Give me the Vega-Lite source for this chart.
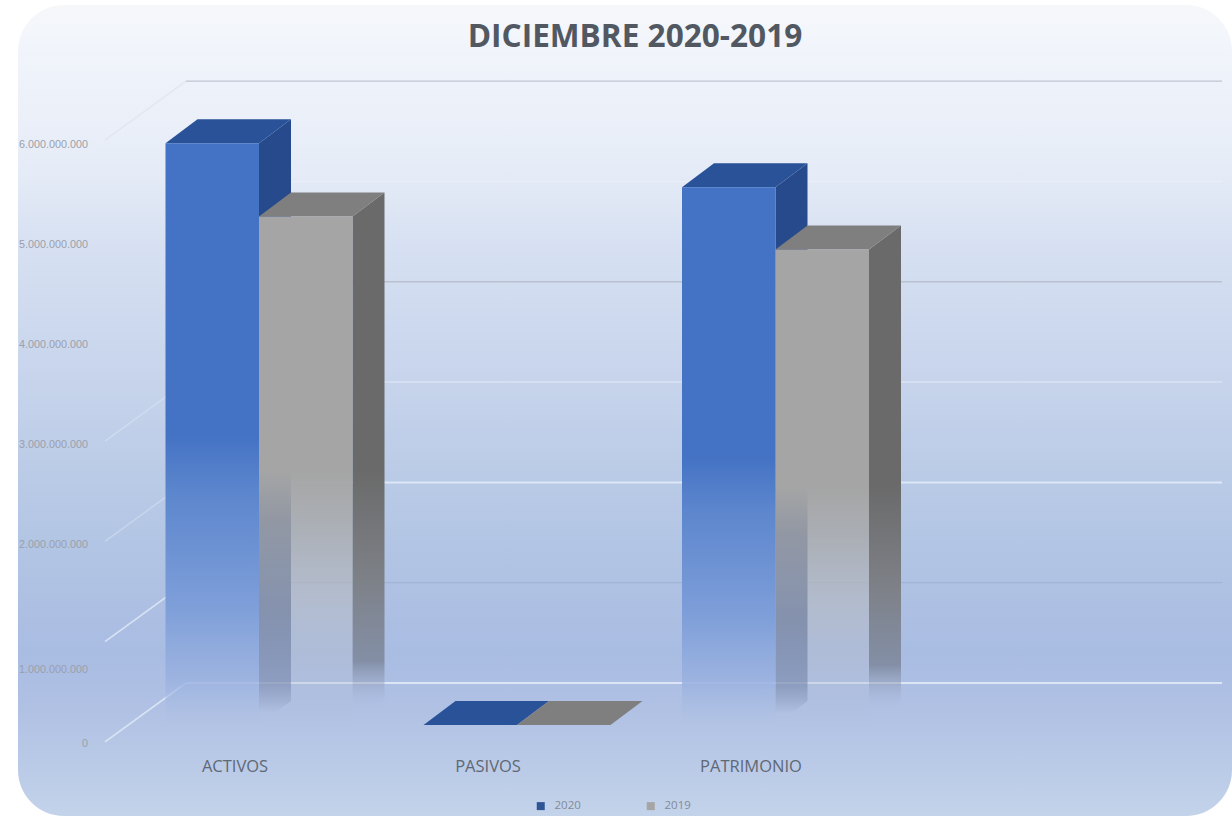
{
"$schema":"https://vega.github.io/schema/vega-lite/v6.json",
"autosize":{"type":"fit","contains":"padding"},
"padding":0,"width":1232,"height":816,"background":"#ffffff",
"view":{"stroke":null},
"title":{"text":"DICIEMBRE 2020-2019","anchor":"middle","frame":"group","offset":-54,"dx":19,"fontSize":31.6,"font":"Open Sans","fontWeight":"bold","color":"#515862"},
"datasets":{
"barras":[
{"categoria":"ACTIVOS","serie":"2020","valor":5800000000},
{"categoria":"ACTIVOS","serie":"2019","valor":5070000000},
{"categoria":"PASIVOS","serie":"2020","valor":0},
{"categoria":"PASIVOS","serie":"2019","valor":0},
{"categoria":"PATRIMONIO","serie":"2020","valor":5360000000},
{"categoria":"PATRIMONIO","serie":"2019","valor":4740000000}],
"rejilla":[{"valor":0},{"valor":1000000000},{"valor":2000000000},{"valor":3000000000},{"valor":4000000000},{"valor":5000000000},{"valor":6000000000}],
"etiquetas":[
{"etiqueta":"6.000.000.000","altura":5783000000},
{"etiqueta":"5.000.000.000","altura":4786000000},
{"etiqueta":"4.000.000.000","altura":3789000000},
{"etiqueta":"3.000.000.000","altura":2792000000},
{"etiqueta":"2.000.000.000","altura":1795000000},
{"etiqueta":"1.000.000.000","altura":548000000},
{"etiqueta":"0","altura":-189000000}],
"categorias":[{"categoria":"ACTIVOS"},{"categoria":"PASIVOS"},{"categoria":"PATRIMONIO"}]
},
"layer":[
{"data":{"values":[{"panel":1}]},
 "mark":{"type":"rect","cornerRadius":46,"color":{"gradient":"linear","x1":0,"y1":0,"x2":0,"y2":1,"stops":[
  {"offset":0,"color":"#f6f7f9"},{"offset":0.03,"color":"#f3f6fb"},{"offset":0.09,"color":"#eef2fa"},{"offset":0.2,"color":"#e6ecf7"},{"offset":0.3,"color":"#d6e0f2"},{"offset":0.5,"color":"#c3d1ea"},{"offset":0.65,"color":"#b3c6e4"},{"offset":0.8,"color":"#a9bce2"},{"offset":0.87,"color":"#b0c1e4"},{"offset":1,"color":"#c3d3ea"}]}},
 "encoding":{
  "x":{"datum":18,"type":"quantitative","scale":{"domain":[0,1232],"nice":false,"zero":false},"axis":null},
  "x2":{"datum":1232},
  "y":{"datum":7178000000,"type":"quantitative","scale":{"domain":[-907000000,7228000000],"nice":false,"zero":false},"axis":null},
  "y2":{"datum":-907000000}}},
{"data":{"name":"rejilla"},
 "transform":[
  {"calculate":"[0,1]","as":"p"},{"flatten":["p"]},
  {"calculate":"[105,186][datum.p]","as":"dx"},
  {"calculate":"datum.valor+(datum.p==0?-169000000:419000000)","as":"dy"},
  {"calculate":"[186,1222][datum.p]","as":"hx"},
  {"calculate":"datum.valor+419000000","as":"hy"}],
 "layer":[
  {"transform":[{"filter":{"field":"valor","oneOf":[6000000000]}}],
   "mark":{"type":"line","stroke":"#dfe3ea","strokeWidth":1.5,"opacity":0.7},
   "encoding":{"x":{"field":"dx","type":"quantitative","axis":null},"y":{"field":"dy","type":"quantitative","axis":null},"detail":{"field":"valor","type":"nominal"}}},
  {"transform":[{"filter":{"field":"valor","oneOf":[2000000000,3000000000]}}],
   "mark":{"type":"line","stroke":"#e4ecf8","strokeWidth":1.5,"opacity":0.4},
   "encoding":{"x":{"field":"dx","type":"quantitative","axis":null},"y":{"field":"dy","type":"quantitative","axis":null},"detail":{"field":"valor","type":"nominal"}}},
  {"transform":[{"filter":{"field":"valor","oneOf":[0,1000000000]}}],
   "mark":{"type":"line","stroke":"#e4ecf8","strokeWidth":1.6,"opacity":0.8},
   "encoding":{"x":{"field":"dx","type":"quantitative","axis":null},"y":{"field":"dy","type":"quantitative","axis":null},"detail":{"field":"valor","type":"nominal"}}},
  {"transform":[{"filter":{"field":"valor","oneOf":[6000000000,4000000000]}}],
   "mark":{"type":"line","stroke":"#b4bac8","strokeWidth":1.3,"opacity":0.8},
   "encoding":{"x":{"field":"hx","type":"quantitative","axis":null},"y":{"field":"hy","type":"quantitative","axis":null},"detail":{"field":"valor","type":"nominal"}}},
  {"transform":[{"filter":{"field":"valor","oneOf":[1000000000]}}],
   "mark":{"type":"line","stroke":"#9fb0d0","strokeWidth":1.3,"opacity":0.8},
   "encoding":{"x":{"field":"hx","type":"quantitative","axis":null},"y":{"field":"hy","type":"quantitative","axis":null},"detail":{"field":"valor","type":"nominal"}}},
  {"transform":[{"filter":{"field":"valor","oneOf":[5000000000,3000000000]}}],
   "mark":{"type":"line","stroke":"#f0f4fb","strokeWidth":1.5,"opacity":0.5},
   "encoding":{"x":{"field":"hx","type":"quantitative","axis":null},"y":{"field":"hy","type":"quantitative","axis":null},"detail":{"field":"valor","type":"nominal"}}},
  {"transform":[{"filter":{"field":"valor","oneOf":[0,2000000000]}}],
   "mark":{"type":"line","stroke":"#e4ecf8","strokeWidth":2,"opacity":0.85},
   "encoding":{"x":{"field":"hx","type":"quantitative","axis":null},"y":{"field":"hy","type":"quantitative","axis":null},"detail":{"field":"valor","type":"nominal"}}}
 ]},
{"data":{"name":"barras"},
 "transform":[
  {"calculate":"{'ACTIVOS':259,'PASIVOS':517,'PATRIMONIO':775.5}[datum.categoria]","as":"centro"},
  {"calculate":"datum.centro-(datum.serie=='2020'?93.5:0)","as":"izq"},
  {"calculate":"datum.izq+93.5","as":"der"},
  {"calculate":"[0,1]","as":"p"},{"flatten":["p"]},
  {"calculate":"datum.p*240000000","as":"alzado"},
  {"calculate":"datum.valor+datum.alzado","as":"ytapa"},
  {"calculate":"datum.alzado","as":"ybase"},
  {"calculate":"datum.izq+datum.p*32","as":"xt1"},
  {"calculate":"datum.der+datum.p*32","as":"xt2"}
 ],
 "layer":[
  {"transform":[{"filter":"datum.serie=='2020'"}],"layer":[
   {"transform":[{"filter":"datum.valor>0"}],
    "mark":{"type":"area","orient":"vertical","color":{"gradient":"linear","x1":0,"y1":0,"x2":0,"y2":1,"stops":[{"offset":0,"color":"#264a8c"},{"offset":0.5,"color":"#264a8c"},{"offset":0.8,"color":"rgba(60,85,140,0.95)"},{"offset":0.93,"color":"rgba(85,105,150,0.6)"},{"offset":0.98,"color":"rgba(110,125,165,0)"},{"offset":1,"color":"rgba(110,125,165,0)"}]}},
    "encoding":{"x":{"field":"xt2","type":"quantitative"},"y":{"field":"ytapa","type":"quantitative"},"y2":{"field":"ybase"},"detail":{"field":"categoria","type":"nominal"}}},
   {"mark":{"type":"area","orient":"horizontal","color":"#2a5299"},
    "encoding":{"y":{"field":"ytapa","type":"quantitative"},"x":{"field":"xt1","type":"quantitative"},"x2":{"field":"xt2"},"detail":{"field":"categoria","type":"nominal"}}},
   {"transform":[{"filter":"datum.p==0 && datum.valor>0"}],
    "mark":{"type":"rect","color":{"gradient":"linear","x1":0,"y1":0,"x2":0,"y2":1,"stops":[{"offset":0,"color":"#4472c4"},{"offset":0.5,"color":"#4472c4"},{"offset":0.6,"color":"#5c86cd"},{"offset":0.8,"color":"#7f9fd9"},{"offset":0.92,"color":"rgba(155,178,224,0.9)"},{"offset":1,"color":"rgba(170,190,226,0)"}]}},
    "encoding":{"x":{"field":"izq","type":"quantitative"},"x2":{"field":"der"},"y":{"field":"valor","type":"quantitative"},"y2":{"field":"ybase"}}}
  ]},
  {"transform":[{"filter":"datum.serie=='2019'"}],"layer":[
   {"transform":[{"filter":"datum.valor>0"}],
    "mark":{"type":"area","orient":"vertical","color":{"gradient":"linear","x1":0,"y1":0,"x2":0,"y2":1,"stops":[{"offset":0,"color":"#6a6a6a"},{"offset":0.52,"color":"#6a6a6a"},{"offset":0.72,"color":"#7d8086"},{"offset":0.88,"color":"rgba(125,135,155,0.85)"},{"offset":0.97,"color":"rgba(170,185,220,0)"},{"offset":1,"color":"rgba(170,185,220,0)"}]}},
    "encoding":{"x":{"field":"xt2","type":"quantitative"},"y":{"field":"ytapa","type":"quantitative"},"y2":{"field":"ybase"},"detail":{"field":"categoria","type":"nominal"}}},
   {"mark":{"type":"area","orient":"horizontal","color":"#7f7f7f"},
    "encoding":{"y":{"field":"ytapa","type":"quantitative"},"x":{"field":"xt1","type":"quantitative"},"x2":{"field":"xt2"},"detail":{"field":"categoria","type":"nominal"}}},
   {"transform":[{"filter":"datum.p==0 && datum.valor>0"}],
    "mark":{"type":"rect","color":{"gradient":"linear","x1":0,"y1":0,"x2":0,"y2":1,"stops":[{"offset":0,"color":"#a5a5a5"},{"offset":0.5,"color":"#a5a5a5"},{"offset":0.6,"color":"rgba(168,168,168,0.8)"},{"offset":0.75,"color":"rgba(182,185,192,0.6)"},{"offset":0.92,"color":"rgba(180,190,212,0.35)"},{"offset":1,"color":"rgba(176,188,215,0)"}]}},
    "encoding":{"x":{"field":"izq","type":"quantitative"},"x2":{"field":"der"},"y":{"field":"valor","type":"quantitative"},"y2":{"field":"ybase"}}}
  ]},
  {"mark":{"type":"point","filled":true,"shape":"square","opacity":0,"size":1},
   "encoding":{"x":{"field":"izq","type":"quantitative"},"y":{"field":"valor","type":"quantitative"},
    "color":{"field":"serie","type":"nominal","scale":{"domain":["2020","2019"],"range":["#2f5597","#a5a5a5"]},
     "legend":{"title":null,"orient":"none","legendX":535,"legendY":800,"direction":"horizontal","columns":2,"columnPadding":64,"symbolType":"square","symbolSize":64,"symbolOpacity":1,"symbolStrokeWidth":0,"labelFontSize":11.5,"labelColor":"#848b98","labelFont":"Open Sans","labelOffset":8}}}}
 ]},
{"data":{"name":"etiquetas"},
 "mark":{"type":"text","align":"right","baseline":"middle","font":"Liberation Sans","fontSize":10.8,"color":"#9a9fab"},
 "encoding":{"x":{"datum":88,"type":"quantitative"},"y":{"field":"altura","type":"quantitative"},"text":{"field":"etiqueta"}}},
{"data":{"name":"categorias"},
 "transform":[{"calculate":"{'ACTIVOS':235,'PASIVOS':488,'PATRIMONIO':751}[datum.categoria]","as":"cx"}],
 "mark":{"type":"text","align":"center","baseline":"middle","font":"Open Sans","fontSize":16.5,"color":"#5f6875"},
 "encoding":{"x":{"field":"cx","type":"quantitative"},"y":{"datum":-415000000,"type":"quantitative"},"text":{"field":"categoria"}}}
]
}
